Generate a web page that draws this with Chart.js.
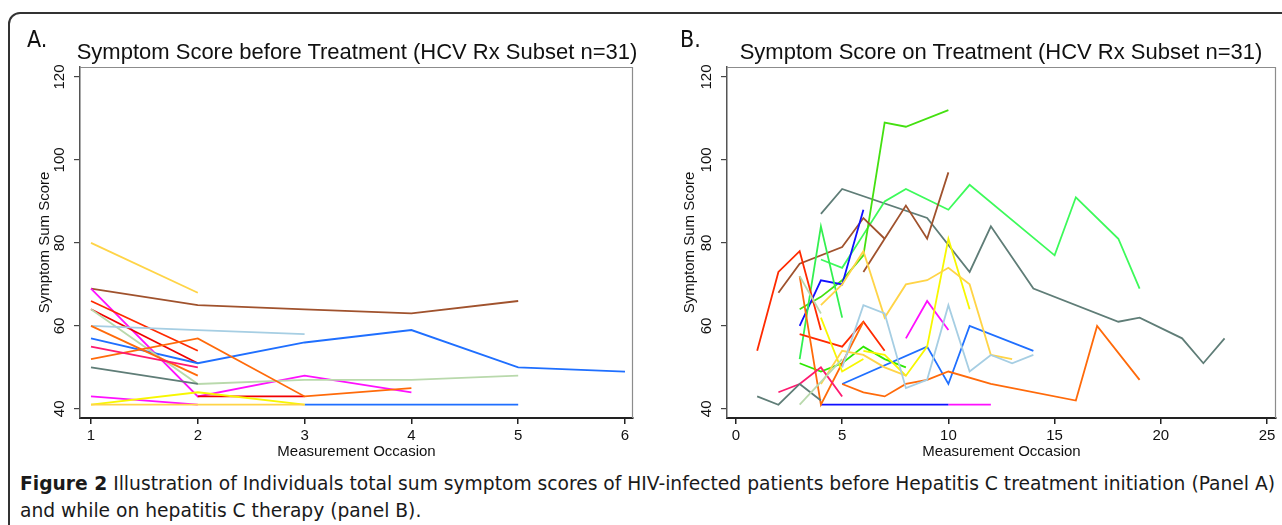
<!DOCTYPE html>
<html><head><meta charset="utf-8">
<script src="https://cdn.jsdelivr.net/npm/chart.js@4"></script>
<style>
html,body{margin:0;padding:0;background:#fff;}
body{width:1282px;height:525px;position:relative;overflow:hidden;font-family:"Liberation Sans",Arial,sans-serif;}
#frame{position:absolute;left:8px;top:12px;width:1320px;height:620px;border:2px solid #333;border-radius:12px;box-sizing:border-box;}
canvas{position:absolute;top:0;}
#ca{left:0;}
#cb{left:660px;}
.lab{position:absolute;font-family:"Liberation Sans Narrow","DejaVu Sans Condensed","Liberation Sans",sans-serif;font-size:23px;line-height:1;color:#111;}
.ttl{position:absolute;font-size:22px;line-height:1;color:#111;white-space:nowrap;transform:translateX(-50%);}
.cap{position:absolute;left:20px;white-space:nowrap;font-size:20px;line-height:1;color:#1a1a1a;transform-origin:left top;font-family:"Liberation Sans Narrow","DejaVu Sans Condensed","Open Sans",sans-serif;}
.cap b{font-weight:bold;}
</style>
</head><body>
<div id="frame"></div>
<canvas id="ca" width="660" height="470"></canvas>
<canvas id="cb" width="622" height="470"></canvas>
<div class="lab" style="left:27px;top:28px;">A.</div>
<div class="lab" style="left:680px;top:28px;">B.</div>
<div class="ttl" style="left:357px;top:41px;">Symptom Score before Treatment (HCV Rx Subset n=31)</div>
<div class="ttl" style="left:1001px;top:41px;">Symptom Score on Treatment (HCV Rx Subset n=31)</div>
<div class="cap" id="cap1" style="top:473px;"><b>Figure 2</b> Illustration of Individuals total sum symptom scores of HIV-infected patients before Hepatitis C treatment initiation (Panel A)</div>
<div class="cap" id="cap2" style="top:500px;">and while on hepatitis C therapy (panel B).</div>
<script>
// ---- tick labels ----
const Y_TICKS = [40, 60, 80, 100, 120];
const A_X_TICKS = [1, 2, 3, 4, 5, 6];
const B_X_TICKS = [0, 5, 10, 15, 20, 25];

// ---- Panel A: [occasion, score] ----
const a_gold1    = [[1,80],[2,68]];
const a_brown    = [[1,69],[2,65],[3,64],[4,63],[5,66]];
const a_magenta1 = [[1,69],[2,43],[3,48],[4,44]];
const a_red1     = [[1,66],[2,54]];
const a_red2     = [[1,64],[2,51]];
const a_red3     = [[2,43],[3,43]];
const a_sage     = [[1,64],[2,46],[3,47],[4,47],[5,48]];
const a_lblue    = [[1,60],[2,59],[3,58]];
const a_blue1    = [[1,57],[2,51],[3,56],[4,59],[5,50],[6,49]];
const a_orange1  = [[1,60],[2,48]];
const a_orange2  = [[1,52],[2,57],[3,43],[4,45]];
const a_pink     = [[1,55],[2,50]];
const a_grey     = [[1,50],[2,46]];
const a_magenta2 = [[1,43],[2,41]];
const a_yellow   = [[1,41],[2,44],[3,41]];
const a_gold2    = [[1,41],[2,41],[3,41]];
const a_blue2    = [[3,41],[4,41],[5,41]];

// ---- Panel B: [occasion, score] ----
const b_grey1    = [[4,87],[5,93],[9,86],[11,73],[12,84],[14,69],[18,61],[19,62],[21,57],[22,51],[23,57]];
const b_green1   = [[4,76],[5,74],[6,82],[7,90],[8,93],[10,88],[11,94],[15,77],[16,91],[18,81],[19,69]];
const b_lime     = [[3,64],[4,67],[5,71],[6,77],[7,109],[8,108],[10,112]];
const b_green2   = [[3,52],[4,84],[5,62]];
const b_green3   = [[3,51],[4,49],[5,51],[6,55],[7,52],[8,50]];
const b_red1     = [[1,54],[2,73],[3,78],[4,59]];
const b_red2     = [[3,58],[5,55],[6,61],[7,54]];
const b_brown1   = [[2,68],[3,75],[5,79],[6,86],[7,81]];
const b_brown2   = [[6,73],[7,81],[8,89],[9,81],[10,97]];
const b_dblue1   = [[3,60],[4,71],[5,70],[6,88]];
const b_dblue2   = [[4,41],[10,41]];
const b_magenta2 = [[10,41],[12,41]];
const b_orange1  = [[3,72],[4,41],[6,61]];
const b_orange2  = [[5,46],[6,44],[7,43],[8,46],[9,47],[10,49],[12,46],[16,42],[17,60],[19,47]];
const b_gold1    = [[4,65],[5,70],[6,78],[7,62],[8,70],[9,71],[10,74],[11,70],[12,53],[13,52]];
const b_yellow1  = [[4,62],[5,49],[6,52]];
const b_yellow2  = [[6,54],[7,53],[8,48],[9,55],[10,81],[11,64]];
const b_gold2    = [[4,46],[5,54],[6,53],[7,50],[8,48]];
const b_lblue    = [[5,50],[6,65],[7,63],[8,45],[9,47],[10,65],[11,49],[12,53],[13,51],[14,53]];
const b_blue     = [[5,46],[9,55],[10,46],[11,60],[14,54]];
const b_magenta1 = [[8,57],[9,66],[10,59]];
const b_pink     = [[2,44],[3,46],[4,50],[5,43]];
const b_grey2    = [[1,43],[2,41],[3,46],[4,42]];
const b_sage1    = [[3,41],[5,52]];
const b_sage2    = [[3,72],[4,63]];

// ---- styles ----
const C = {gold:'#ffd447', yellow:'#f7f700', brown:'#a0522d', magenta:'#ff10ff', red:'#ff2a00', red2:'#f00000',
  sage:'#b9d9ac', lblue:'#a6cee3', blue:'#1f6fff', dblue:'#1010ff', orange:'#ff6a0a', pink:'#ff1a70',
  grey:'#5f7d77', green1:'#3dfa5a', lime:'#44e010', green2:'#33f050', green3:'#2ee800'};

const panelA = [
  [a_gold2,C.gold],[a_yellow,C.yellow],[a_magenta2,C.magenta],[a_blue2,C.blue],[a_grey,C.grey],[a_pink,C.pink],
  [a_orange1,C.orange],[a_orange2,C.orange],[a_lblue,C.lblue],[a_sage,C.sage],[a_blue1,C.blue],[a_red2,C.red2],
  [a_red1,C.red],[a_red3,C.red2],[a_magenta1,C.magenta],[a_brown,C.brown],[a_gold1,C.gold]
];
const panelB = [
  [b_sage1,C.sage],[b_sage2,C.sage],[b_grey2,C.grey],[b_pink,C.pink],[b_lblue,C.lblue],[b_gold2,C.gold],[b_gold1,C.gold],
  [b_yellow1,C.yellow],[b_yellow2,C.yellow],[b_orange2,C.orange],[b_orange1,C.orange],[b_blue,C.blue],[b_magenta1,C.magenta],
  [b_dblue2,C.dblue],[b_magenta2,C.magenta],[b_red1,C.red],[b_red2,C.red],[b_green3,C.green3],[b_green2,C.green2],
  [b_dblue1,C.dblue],[b_brown1,C.brown],[b_brown2,C.brown],[b_lime,C.lime],[b_green1,C.green1],[b_grey1,C.grey]
];

const FONT = '"Liberation Sans", Arial, sans-serif';

const framePlugin = {
  id: 'frame',
  beforeDatasetsDraw(chart) {
    const {ctx, chartArea: a} = chart;
    ctx.save();
    ctx.strokeStyle = '#8c8c8c'; ctx.lineWidth = 1.2;
    ctx.beginPath();
    ctx.moveTo(a.left, a.top + 0.5); ctx.lineTo(a.right - 0.5, a.top + 0.5); ctx.lineTo(a.right - 0.5, a.bottom);
    ctx.stroke();
    ctx.restore();
  },
  afterDraw(chart, args, opts) {
    const y = chart.scales.y, ctx = chart.ctx;
    ctx.save();
    ctx.font = '15px ' + FONT; ctx.fillStyle = '#111';
    ctx.textAlign = 'center'; ctx.textBaseline = 'middle';
    y.ticks.forEach(t => {
      const py = y.getPixelForValue(t.value);
      ctx.save(); ctx.translate(opts.labelX, py); ctx.rotate(-Math.PI / 2);
      ctx.fillText(String(t.value), 0, 0); ctx.restore();
    });
    ctx.restore();
  }
};

function build(id, sets, xmin, xmax, xticks, yWidth, rightPad, labelX, yTitlePad) {
  new Chart(document.getElementById(id), {
    type: 'scatter',
    data: { datasets: sets.map(([d, col]) => ({ data: d, borderColor: col, backgroundColor: col, showLine: true,
      pointRadius: 0, borderWidth: 1.8, tension: 0 })) },
    plugins: [framePlugin],
    options: {
      responsive: false, animation: false, devicePixelRatio: 1,
      layout: { padding: { top: 67, left: 0, right: rightPad, bottom: 0 } },
      plugins: { legend: { display: false }, tooltip: { enabled: false }, frame: { labelX: labelX } },
      scales: {
        x: { type: 'linear', min: xmin, max: xmax,
          afterBuildTicks: s => { s.ticks = xticks.map(v => ({ value: v })); },
          afterFit: s => { s.height = 52; s.paddingLeft = 0; s.paddingRight = 0; },
          ticks: { font: { size: 15, family: FONT }, color: '#111', padding: 3, maxRotation: 0, minRotation: 0, autoSkip: false },
          grid: { drawOnChartArea: false, drawTicks: true, tickLength: 6, color: '#222', lineWidth: 1.5 },
          border: { display: true, color: '#222', width: 2 },
          title: { display: true, text: 'Measurement Occasion', font: { size: 15, family: FONT }, color: '#111', padding: { top: 0, bottom: 9 } } },
        y: { type: 'linear', min: 37.8, max: 122.4,
          afterBuildTicks: s => { s.ticks = Y_TICKS.map(v => ({ value: v })); },
          afterFit: s => { s.width = yWidth; s.paddingTop = 0; s.paddingBottom = 0; },
          ticks: { display: false },
          grid: { drawOnChartArea: false, drawTicks: true, tickLength: 6, color: '#444', lineWidth: 1.2 },
          border: { display: true, color: '#555', width: 1.5 },
          title: { display: true, text: 'Symptom Sum Score', font: { size: 15, family: FONT }, color: '#111', padding: { top: yTitlePad, bottom: 0 } } }
      }
    }
  });
}

build('ca', panelA, 0.897, 6.075, A_X_TICKS, 80, 27, 60, 36);
build('cb', panelB, -0.42, 25.42, B_X_TICKS, 67, 6, 47, 21);

// fit caption to the reference line width
(function () {
  const c1 = document.getElementById('cap1'), c2 = document.getElementById('cap2');
  const w = c1.getBoundingClientRect().width;
  const k = 1255 / w;
  c1.style.transform = 'scaleX(' + k + ')';
  c2.style.transform = 'scaleX(' + k + ')';
})();
</script>
</body></html>
